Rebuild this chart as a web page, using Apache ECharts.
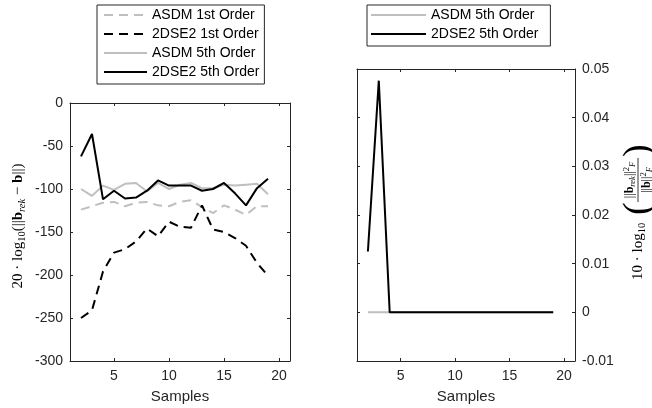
<!DOCTYPE html>
<html><head><meta charset="utf-8">
<script src="https://cdn.jsdelivr.net/npm/echarts@6/dist/echarts.min.js"></script>
<style>html,body{margin:0;padding:0;background:#fff}#c{width:652px;height:408px}</style>
</head><body><div id="c"></div>
<script>
// ---- data ----
const samples = [2,3,4,5,6,7,8,9,10,11,12,13,14,15,16,17,18,19];
const asdm1st = [-124,-120,-116,-115,-120,-116,-115,-119,-120,-115,-113,-121,-128,-119,-124,-130,-120,-120];
const dse1st  = [-250,-241,-196,-174,-170,-161,-146,-155,-138,-144,-145,-119,-147,-150,-157,-166,-186,-201];
const asdm5th = [-100,-108,-96,-101,-94,-93,-103,-93,-100,-95,-93,-99,-99,-95,-96,-95,-94,-106];
const dse5th  = [-62,-36,-112,-102,-111,-110,-102,-90,-96,-96,-96,-102,-100,-93,-105,-119,-99,-88];
const asdm5thEnergy = [0,0,0,0,0,0,0,0,0,0,0,0,0,0,0,0,0,0];
const dse5thEnergy  = [0.0125,0.0476,0,0,0,0,0,0,0,0,0,0,0,0,0,0,0,0];
const xTicks = [5,10,15,20];
const leftNames = ['ASDM 1st Order','2DSE2 1st Order','ASDM 5th Order','2DSE2 5th Order'];
const rightNames = ['ASDM 5th Order','2DSE2 5th Order'];
const xName = 'Samples';

const pair = arr => samples.map((s,i)=>[s,arr[i]]);
const AX = '#262626', GRAY = '#bfbfbf', SANS = 'Liberation Sans', SERIF = 'Liberation Serif';

function xAx(grid, pos){
  const main = pos === 'bottom';
  return {gridIndex:grid, type:'value', min:1, max:21, position:pos,
    axisLine:{show:true, onZero:false, lineStyle:{color:AX, width:1}},
    axisTick:{show:true, inside:true, length:3, customValues:xTicks, lineStyle:{color:AX}},
    axisLabel:{show:main, customValues:xTicks, fontSize:14, fontFamily:SANS, color:AX, margin:8},
    splitLine:{show:false},
    name: main ? xName : '', nameLocation:'middle', nameGap:28,
    nameTextStyle:{fontSize:15, fontFamily:SANS, color:AX}};
}
function yAx(grid, pos, min, max, interval, labels){
  return {gridIndex:grid, type:'value', min:min, max:max, interval:interval, position:pos,
    axisLine:{show:true, onZero:false, lineStyle:{color:AX, width:1}},
    axisTick:{show:true, inside:true, length:3, lineStyle:{color:AX}},
    axisLabel:{show:labels, fontSize:14, fontFamily:SANS, color:AX, margin:7},
    splitLine:{show:false}};
}
function line(name, data, xi, yi, color, dashed){
  return {name:name, type:'line', data:data, xAxisIndex:xi, yAxisIndex:yi,
    symbol:'none', showSymbol:false, silent:true,
    lineStyle:{color:color, width:2, type: dashed ? [9,6] : 'solid'},
    itemStyle:{color:color}};
}
const subRich = {
  m:{fontSize:15, fontFamily:SERIF, color:'#000', lineHeight:20},
  s:{fontSize:10.5, fontFamily:SERIF, color:'#000', lineHeight:10, verticalAlign:'bottom'},
  si:{fontSize:10.5, fontFamily:SERIF, fontStyle:'italic', color:'#000', lineHeight:10, verticalAlign:'bottom'},
  b:{fontSize:15, fontFamily:SERIF, fontWeight:'bold', color:'#000', lineHeight:20}
};
const fracRich = {
  n:{fontSize:12, fontFamily:SERIF, color:'#000', lineHeight:15},
  b:{fontSize:12, fontFamily:SERIF, fontWeight:'bold', color:'#000', lineHeight:15},
  s:{fontSize:8.5, fontFamily:SERIF, fontStyle:'italic', color:'#000', lineHeight:8, verticalAlign:'bottom'},
  p:{fontSize:8.5, fontFamily:SERIF, color:'#000', lineHeight:8, verticalAlign:'top'}
};
const legendBase = {orient:'vertical', top:5, itemHeight:14, itemGap:5,
  borderColor:AX, borderWidth:1, backgroundColor:'#fff', selectedMode:false,
  itemStyle:{opacity:0},
  lineStyle:{width:2},
  textStyle:{fontSize:14, fontFamily:SANS, color:'#000'}};

const option = {
  animation:false,
  backgroundColor:'#fff',
  grid:[
    {left:70, top:103, width:220, height:258, outerBoundsMode:'none'},
    {left:357, top:69, width:218, height:292, outerBoundsMode:'none'}
  ],
  xAxis:[xAx(0,'bottom'), xAx(0,'top'), xAx(1,'bottom'), xAx(1,'top')],
  yAxis:[
    yAx(0,'left',-300,0,50,true), yAx(0,'right',-300,0,50,false),
    yAx(1,'right',-0.01,0.05,0.01,true), yAx(1,'left',-0.01,0.05,0.01,false)
  ],
  legend:[
    Object.assign({}, legendBase, {data:leftNames, left:97, itemWidth:43, padding:[3,5,5,6]}),
    Object.assign({}, legendBase, {data:rightNames, left:367, itemWidth:55, padding:[3,12,5,3]})
  ],
  series:[
    line(leftNames[0], pair(asdm1st), 0, 0, GRAY, true),
    line(leftNames[1], pair(dse1st), 0, 0, '#000', true),
    line(leftNames[2], pair(asdm5th), 0, 0, GRAY, false),
    line(leftNames[3], pair(dse5th), 0, 0, '#000', false),
    line(rightNames[0], pair(asdm5thEnergy), 2, 2, GRAY, false),
    line(rightNames[1], pair(dse5thEnergy), 2, 2, '#000', false)
  ],
  graphic:[
    {type:'text', x:18, y:226, rotation:Math.PI/2,
     style:{text:'{m|20 · log}{s|10}{m|(||}{b|b}{si|rek}{m| − }{b|b}{m|||)}', rich:subRich,
            align:'center', verticalAlign:'middle'}},
    {type:'group', x:638, y:215, rotation:Math.PI/2, children:[
      {type:'text', x:-65, y:0,
       style:{text:'{m|10 · log}{s|10}', rich:subRich, align:'left', verticalAlign:'middle'}},
      {type:'text', x:0, y:1,
       style:{text:'(', fontSize:38, fontFamily:SERIF, fill:'#000', align:'left', verticalAlign:'middle'}},
      {type:'text', x:35, y:-8,
       style:{text:'{n|||}{b|b}{s|rek}{n|||}{p|2}{s|F}', rich:fracRich, align:'center', verticalAlign:'middle'}},
      {type:'line', shape:{x1:13, y1:0, x2:57, y2:0}, style:{stroke:'#000', lineWidth:0.8}},
      {type:'text', x:35, y:9,
       style:{text:'{n|||}{b|b}{n|||}{p|2}{s|F}', rich:fracRich, align:'center', verticalAlign:'middle'}},
      {type:'text', x:58, y:1,
       style:{text:')', fontSize:38, fontFamily:SERIF, fill:'#000', align:'left', verticalAlign:'middle'}}
    ]}
  ]
};
const chart = echarts.init(document.getElementById('c'), null, {renderer:'canvas'});
chart.setOption(option);
</script></body></html>
